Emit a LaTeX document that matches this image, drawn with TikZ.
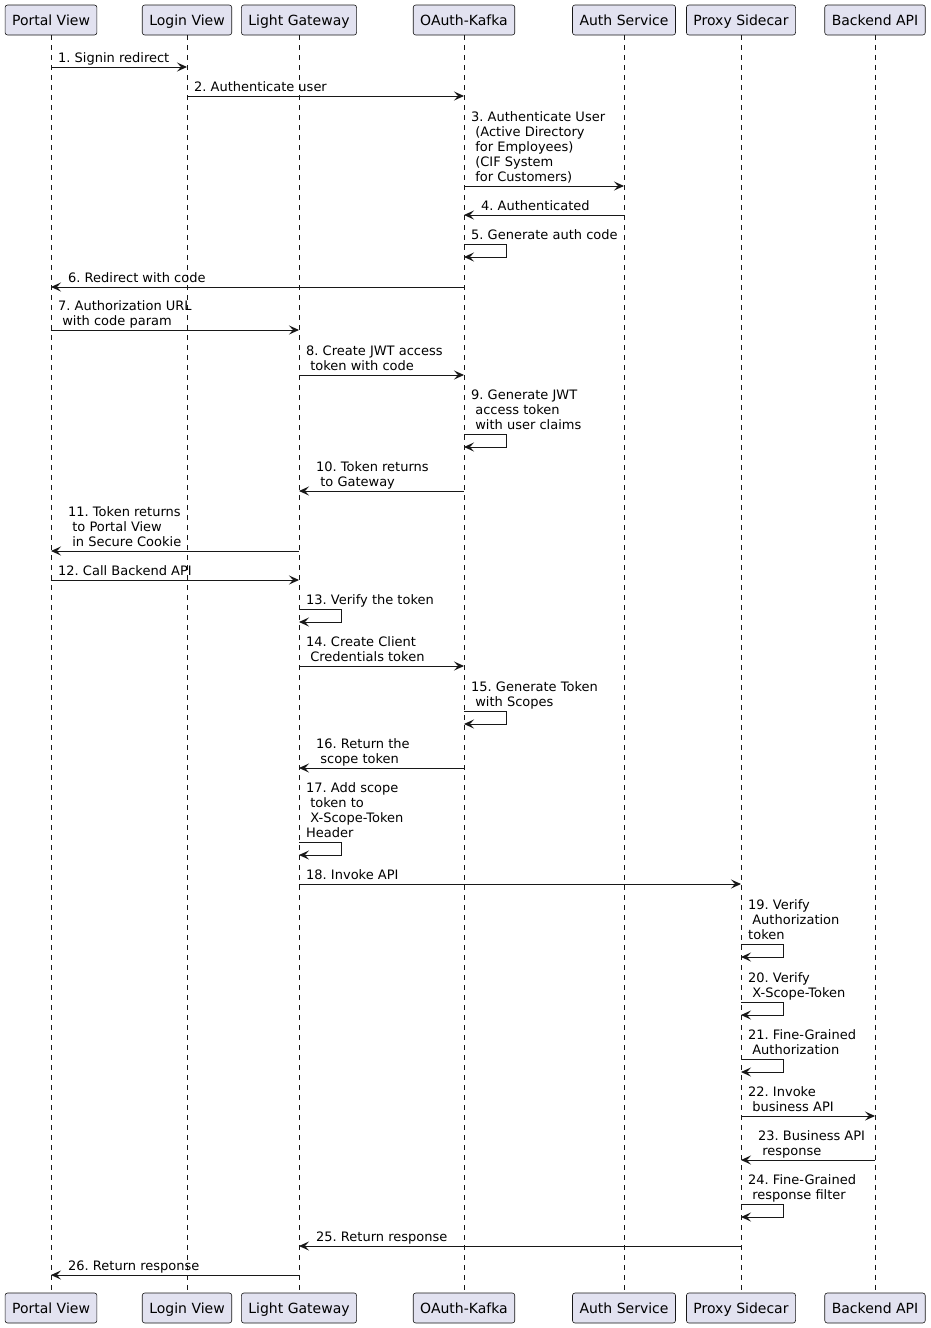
\documentclass[tikz,border=0pt]{standalone}
\usepackage{fontspec}
\setmainfont{DejaVu Sans}
\usetikzlibrary{arrows.meta}
\definecolor{lineclr}{HTML}{181818}
\definecolor{boxfill}{HTML}{E2E2F0}
\frenchspacing
\newcommand{\mlines}[1]{\begin{tabular}[b]{@{}l@{}}#1\end{tabular}}
\tikzset{
  participant/.style={draw=lineclr, fill=boxfill, rounded corners=2.5pt, line width=0.6pt,
    inner xsep=7pt, inner ysep=0pt, minimum height=30pt, text height=12.5pt, text depth=1.5pt,
    font=\fontsize{14pt}{16pt}\selectfont\frenchspacing},
  lifeline/.style={draw=lineclr, line width=0.5pt, dash pattern=on 5pt off 5pt},
  msg/.style={draw=lineclr, line width=1pt, -{Stealth[length=10pt,width=9pt,inset=4pt]}},
  lbl/.style={anchor=base west, inner sep=0pt, font=\fontsize{13pt}{15pt}\selectfont\frenchspacing, text=black}
}
\begin{document}
\begin{tikzpicture}[x=1pt, y=-1pt]
\fill[white] (0,0) rectangle (931,1328);
\useasboundingbox (0,0) rectangle (931,1328);
% top participants
\node[participant] (tP) at (51,20)  {Portal View};
\node[participant] (tL) at (187,20) {Login View};
\node[participant] (tG) at (299,20) {Light Gateway};
\node[participant] (tO) at (464,20) {OAuth-Kafka};
\node[participant] (tA) at (624,20) {Auth Service};
\node[participant] (tS) at (741,20) {Proxy Sidecar};
\node[participant] (tB) at (875,20) {Backend API};
% bottom participants
\node[participant] (bP) at (51,1308)  {Portal View};
\node[participant] (bL) at (187,1308) {Login View};
\node[participant] (bG) at (299,1308) {Light Gateway};
\node[participant] (bO) at (464,1308) {OAuth-Kafka};
\node[participant] (bA) at (624,1308) {Auth Service};
\node[participant] (bS) at (741,1308) {Proxy Sidecar};
\node[participant] (bB) at (875,1308) {Backend API};
% lifelines
\foreach \p in {P,L,G,O,A,S,B}{
  \draw[lifeline] (t\p.south) -- (b\p.north);
}
% 1
\draw[msg] (tP |- 0,67) -- (tL |- 0,67);
\node[lbl] (m1) at (58,62) {\mlines{1. Signin redirect}};
% 2
\draw[msg] (tL |- 0,96) -- (tO |- 0,96);
\node[lbl] (m2) at (194,91) {\mlines{2. Authenticate user}};
% 3
\draw[msg] (tO |- 0,186) -- (tA |- 0,186);
\node[lbl] (m3) at (471,181) {\mlines{3. Authenticate User\\\ (Active Directory\\\ for Employees)\\\ (CIF System\\\ for Customers)}};
% 4
\draw[msg] (tA |- 0,215) -- (tO |- 0,215);
\node[lbl] (m4) at (481,210) {\mlines{4. Authenticated}};
% 5
\draw[msg] (tO |- 0,244) -- ++(42,0) -- ++(0,13) -- (tO |- 0,257);
\node[lbl] (m5) at (471,239) {\mlines{5. Generate auth code}};
% 6
\draw[msg] (tO |- 0,287) -- (tP |- 0,287);
\node[lbl] (m6) at (68,282) {\mlines{6. Redirect with code}};
% 7
\draw[msg] (tP |- 0,330) -- (tG |- 0,330);
\node[lbl] (m7) at (58,325) {\mlines{7. Authorization URL\\\ with code param}};
% 8
\draw[msg] (tG |- 0,375) -- (tO |- 0,375);
\node[lbl] (m8) at (306,370) {\mlines{8. Create JWT access\\\ token with code}};
% 9
\draw[msg] (tO |- 0,434) -- ++(42,0) -- ++(0,13) -- (tO |- 0,447);
\node[lbl] (m9) at (471,429) {\mlines{9. Generate JWT\\\ access token\\\ with user claims}};
% 10
\draw[msg] (tO |- 0,491) -- (tG |- 0,491);
\node[lbl] (m10) at (316,486) {\mlines{10. Token returns\\\ to Gateway}};
% 11
\draw[msg] (tG |- 0,551) -- (tP |- 0,551);
\node[lbl] (m11) at (68,546) {\mlines{11. Token returns\\\ to Portal View\\\ in Secure Cookie}};
% 12
\draw[msg] (tP |- 0,580) -- (tG |- 0,580);
\node[lbl] (m12) at (58,575) {\mlines{12. Call Backend API}};
% 13
\draw[msg] (tG |- 0,609) -- ++(42,0) -- ++(0,13) -- (tG |- 0,622);
\node[lbl] (m13) at (306,604) {\mlines{13. Verify the token}};
% 14
\draw[msg] (tG |- 0,666) -- (tO |- 0,666);
\node[lbl] (m14) at (306,661) {\mlines{14. Create Client\\\ Credentials token}};
% 15
\draw[msg] (tO |- 0,711) -- ++(42,0) -- ++(0,13) -- (tO |- 0,724);
\node[lbl] (m15) at (471,706) {\mlines{15. Generate Token\\\ with Scopes}};
% 16
\draw[msg] (tO |- 0,768) -- (tG |- 0,768);
\node[lbl] (m16) at (316,763) {\mlines{16. Return the\\\ scope token}};
% 17
\draw[msg] (tG |- 0,842) -- ++(42,0) -- ++(0,13) -- (tG |- 0,855);
\node[lbl] (m17) at (306,837) {\mlines{17. Add scope\\\ token to\\\ X-Scope-Token\\Header}};
% 18
\draw[msg] (tG |- 0,884) -- (tS |- 0,884);
\node[lbl] (m18) at (306,879) {\mlines{18. Invoke API}};
% 19
\draw[msg] (tS |- 0,944) -- ++(42,0) -- ++(0,13) -- (tS |- 0,957);
\node[lbl] (m19) at (748,939) {\mlines{19. Verify\\\ Authorization\\token}};
% 20
\draw[msg] (tS |- 0,1002) -- ++(42,0) -- ++(0,13) -- (tS |- 0,1015);
\node[lbl] (m20) at (748,997) {\mlines{20. Verify\\\ X-Scope-Token}};
% 21
\draw[msg] (tS |- 0,1059) -- ++(42,0) -- ++(0,13) -- (tS |- 0,1072);
\node[lbl] (m21) at (748,1054) {\mlines{21. Fine-Grained\\\ Authorization}};
% 22
\draw[msg] (tS |- 0,1116) -- (tB |- 0,1116);
\node[lbl] (m22) at (748,1111) {\mlines{22. Invoke\\\ business API}};
% 23
\draw[msg] (tB |- 0,1160) -- (tS |- 0,1160);
\node[lbl] (m23) at (758,1155) {\mlines{23. Business API\\\ response}};
% 24
\draw[msg] (tS |- 0,1204) -- ++(42,0) -- ++(0,13) -- (tS |- 0,1217);
\node[lbl] (m24) at (748,1199) {\mlines{24. Fine-Grained\\\ response filter}};
% 25
\draw[msg] (tS |- 0,1246) -- (tG |- 0,1246);
\node[lbl] (m25) at (316,1241) {\mlines{25. Return response}};
% 26
\draw[msg] (tG |- 0,1275) -- (tP |- 0,1275);
\node[lbl] (m26) at (68,1270) {\mlines{26. Return response}};
\end{tikzpicture}
\end{document}
